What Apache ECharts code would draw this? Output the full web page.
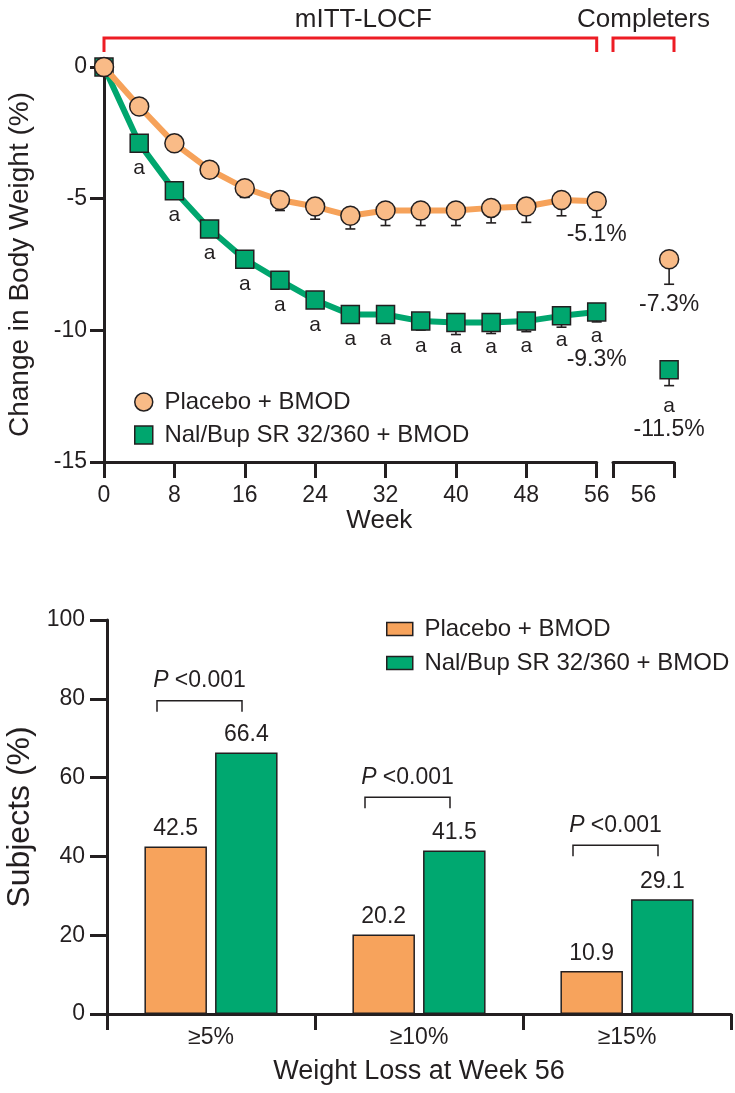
<!DOCTYPE html>
<html>
<head>
<meta charset="utf-8">
<script src="https://cdn.jsdelivr.net/npm/echarts@6.0.0/dist/echarts.min.js"></script>
<style>html,body{margin:0;padding:0;background:#fff}#c{width:735px;height:1093px}</style>
</head>
<body>
<div id="c"></div>
<script>
// ---------- DATA ----------
const weeks = [0, 4, 8, 12, 16, 20, 24, 28, 32, 36, 40, 44, 48, 52, 56];
const placeboMean = [0, -1.5, -2.9, -3.9, -4.6, -5.05, -5.3, -5.65, -5.45, -5.45, -5.45, -5.35, -5.3, -5.05, -5.1];
const placeboSE   = [0, 0.2, 0.25, 0.3, 0.35, 0.4, 0.48, 0.5, 0.57, 0.57, 0.57, 0.57, 0.6, 0.6, 0.6];
const nalMean = [0, -2.9, -4.7, -6.15, -7.3, -8.1, -8.85, -9.4, -9.4, -9.65, -9.7, -9.7, -9.65, -9.45, -9.3];
const nalSE   = [0, 0.15, 0.2, 0.22, 0.25, 0.27, 0.3, 0.32, 0.32, 0.34, 0.46, 0.42, 0.4, 0.43, 0.38];
const nalSig  = ['', 'a', 'a', 'a', 'a', 'a', 'a', 'a', 'a', 'a', 'a', 'a', 'a', 'a', 'a'];
const completerPlacebo = [-7.3];
const completerPlaceboSE = [0.95];
const completerNal = [-11.5];
const completerNalSE = [0.6];
const completerNalSig = ['a'];
const completerWeekLabel = ['56'];
const topTitleLabels = ['mITT-LOCF', 'Completers'];

const barCategories = ['≥5%', '≥10%', '≥15%'];
const barPlacebo = [42.5, 20.2, 10.9];
const barNal = [66.4, 41.5, 29.1];
const pValueText = ['<0.001', '<0.001', '<0.001'];
const pBracketLevel = [79.5, 55, 42.8];

const nameA = 'Placebo + BMOD';
const nameB = 'Nal/Bup SR 32/360 + BMOD';

// ---------- STYLE / LAYOUT ----------
const FONT = '"Liberation Sans", Arial, Helvetica, sans-serif';
const INK = '#231f20';
const RED = '#ed1c24';
const peach = '#f9bb87', orangeLine = '#f6a25a', green = '#00a66e';
const barOrange = '#f7a35c', barGreen = '#00a870';

const G0 = {left: 104, top: 67, width: 492.7, height: 395};
const G1 = {left: 613, top: 67, width: 61, height: 395};
const G2 = {left: 107, top: 620, width: 624, height: 394};
const COMPLETER_POS = 0.92;

const chart = echarts.init(document.getElementById('c'), null, {renderer: 'canvas'});

function errorSeries(xIdx, yIdx, xs, means, ses, z) {
  return {
    type: 'custom', xAxisIndex: xIdx, yAxisIndex: yIdx, z: z, silent: true,
    data: xs.map((x, i) => [x, means[i], means[i] - ses[i]]),
    encode: {x: 0, y: [1, 2]},
    renderItem: function (params, api) {
      const top = api.coord([api.value(0), api.value(1)]);
      const bot = api.coord([api.value(0), api.value(2)]);
      const hw = 5;
      return {type: 'group', children: [
        {type: 'line', shape: {x1: top[0], y1: top[1], x2: bot[0], y2: bot[1]}, style: {stroke: INK, lineWidth: 1.6}},
        {type: 'line', shape: {x1: bot[0] - hw, y1: bot[1], x2: bot[0] + hw, y2: bot[1]}, style: {stroke: INK, lineWidth: 1.6}}
      ]};
    }
  };
}

const axisLineStyle = {show: true, onZero: false, lineStyle: {color: INK, width: 3}};
const tickStyle = (len) => ({show: true, inside: false, length: len, lineStyle: {color: INK, width: 3}});
const labelStyle = (margin) => ({show: true, color: INK, fontSize: 23, fontFamily: FONT, margin: margin});

const markerBorder = {borderColor: INK, borderWidth: 1.5, opacity: 1};

const option = {
  animation: false,
  backgroundColor: '#fff',
  textStyle: {fontFamily: FONT, color: INK},
  grid: [
    Object.assign({outerBoundsMode: 'none'}, G0),
    Object.assign({outerBoundsMode: 'none'}, G1),
    Object.assign({outerBoundsMode: 'none'}, G2)
  ],
  xAxis: [
    {gridIndex: 0, type: 'value', min: 0, max: 56, interval: 8,
     axisLine: axisLineStyle, axisTick: tickStyle(16), axisLabel: labelStyle(22), splitLine: {show: false},
     name: 'Week', nameLocation: 'middle', nameGap: 45,
     nameTextStyle: {fontSize: 26, color: INK, fontFamily: FONT, padding: [0, 0, 0, 58]}},
    {gridIndex: 1, type: 'category', data: completerWeekLabel, boundaryGap: true,
     axisLine: axisLineStyle, axisTick: tickStyle(16), axisLabel: labelStyle(22), splitLine: {show: false}},
    {gridIndex: 1, type: 'value', min: 0, max: 1, show: false},
    {gridIndex: 2, type: 'category', data: barCategories, boundaryGap: true,
     axisLine: axisLineStyle, axisTick: tickStyle(16), axisLabel: labelStyle(12), splitLine: {show: false},
     name: 'Weight Loss at Week 56', nameLocation: 'middle', nameGap: 44,
     nameTextStyle: {fontSize: 27, color: INK, fontFamily: FONT}}
  ],
  yAxis: [
    {gridIndex: 0, type: 'value', min: -15, max: 0, interval: 5,
     axisLine: axisLineStyle, axisTick: tickStyle(14), axisLabel: labelStyle(17), splitLine: {show: false},
     name: 'Change in Body Weight (%)', nameLocation: 'middle', nameGap: 70,
     nameTextStyle: {fontSize: 28, color: INK, fontFamily: FONT}},
    {gridIndex: 1, type: 'value', min: -15, max: 0, show: false},
    {gridIndex: 2, type: 'value', min: 0, max: 100, interval: 20,
     axisLine: axisLineStyle, axisTick: tickStyle(17), axisLabel: labelStyle(22), splitLine: {show: false},
     name: 'Subjects (%)', nameLocation: 'middle', nameGap: 70,
     nameTextStyle: {fontSize: 32, color: INK, fontFamily: FONT}}
  ],
  legend: [
    {orient: 'vertical', left: 134, top: 390, padding: 0, itemWidth: 18, itemHeight: 18, itemGap: 9,
     selectedMode: false, textStyle: {fontSize: 24, color: INK, fontFamily: FONT},
     formatter: n => ' ' + n,
     data: [
       {name: nameA, icon: 'circle', itemStyle: Object.assign({color: peach}, markerBorder)},
       {name: nameB, icon: 'rect', itemStyle: Object.assign({color: green}, markerBorder)}
     ]},
    {orient: 'vertical', left: 386, top: 617, padding: 0, itemWidth: 26, itemHeight: 13, itemGap: 10,
     selectedMode: false, textStyle: {fontSize: 24, color: INK, fontFamily: FONT},
     formatter: n => ' ' + n,
     data: [
       {name: nameA, icon: 'rect', itemStyle: Object.assign({color: barOrange}, markerBorder)},
       {name: nameB, icon: 'rect', itemStyle: Object.assign({color: barGreen}, markerBorder)}
     ]}
  ],
  series: [
    errorSeries(0, 0, weeks, placeboMean, placeboSE, 2),
    errorSeries(0, 0, weeks, nalMean, nalSE, 2),
    errorSeries(2, 1, [COMPLETER_POS], completerPlacebo, completerPlaceboSE, 2),
    errorSeries(2, 1, [COMPLETER_POS], completerNal, completerNalSE, 2),
    {name: nameB, type: 'line', xAxisIndex: 0, yAxisIndex: 0, z: 3,
     data: weeks.map((w, i) => [w, nalMean[i]]),
     symbol: 'rect', symbolSize: 18, showSymbol: true,
     lineStyle: {color: green, width: 6},
     itemStyle: Object.assign({color: green}, markerBorder),
     label: {show: true, position: 'bottom', distance: 4, color: INK, fontFamily: FONT,
       formatter: p => {
         const i = p.dataIndex;
         if (!nalSig[i]) return '';
         if (i === weeks.length - 1) return '{a|' + nalSig[i] + '}\n{v|' + nalMean[i].toFixed(1) + '%}';
         return '{a|' + nalSig[i] + '}';
       },
       rich: {a: {fontSize: 21, lineHeight: 22, color: INK, fontFamily: FONT},
              v: {fontSize: 23, lineHeight: 24, color: INK, fontFamily: FONT}}},
     emphasis: {disabled: true}},
    {name: nameA, type: 'line', xAxisIndex: 0, yAxisIndex: 0, z: 4,
     data: weeks.map((w, i) => [w, placeboMean[i]]),
     symbol: 'circle', symbolSize: 19, showSymbol: true,
     lineStyle: {color: orangeLine, width: 6},
     itemStyle: Object.assign({color: peach}, markerBorder),
     label: {show: true, position: 'bottom', distance: 12, color: INK, fontFamily: FONT, fontSize: 23,
       formatter: p => p.dataIndex === weeks.length - 1 ? placeboMean[p.dataIndex].toFixed(1) + '%' : ''},
     emphasis: {disabled: true}},
    {name: 'Completers placebo', type: 'scatter', xAxisIndex: 2, yAxisIndex: 1, z: 4,
     data: completerPlacebo.map(v => [COMPLETER_POS, v]),
     symbol: 'circle', symbolSize: 19,
     itemStyle: Object.assign({color: peach}, markerBorder),
     label: {show: true, position: 'bottom', distance: 24, color: INK, fontFamily: FONT, fontSize: 23,
       formatter: p => completerPlacebo[p.dataIndex].toFixed(1) + '%'},
     emphasis: {disabled: true}},
    {name: 'Completers nal', type: 'scatter', xAxisIndex: 2, yAxisIndex: 1, z: 4,
     data: completerNal.map(v => [COMPLETER_POS, v]),
     symbol: 'rect', symbolSize: 18,
     itemStyle: Object.assign({color: green}, markerBorder),
     label: {show: true, position: 'bottom', distance: 16, color: INK, fontFamily: FONT,
       formatter: p => '{a|' + completerNalSig[p.dataIndex] + '}\n{v|' + completerNal[p.dataIndex].toFixed(1) + '%}',
       rich: {a: {fontSize: 21, lineHeight: 22, color: INK, fontFamily: FONT},
              v: {fontSize: 23, lineHeight: 25, color: INK, fontFamily: FONT}}},
     emphasis: {disabled: true}},
    {name: nameA, type: 'bar', xAxisIndex: 3, yAxisIndex: 2, data: barPlacebo,
     barCategoryGap: '36%', barGap: '13%',
     itemStyle: Object.assign({color: barOrange}, markerBorder),
     label: {show: true, position: 'top', distance: 6, color: INK, fontSize: 23, fontFamily: FONT},
     emphasis: {disabled: true}},
    {name: nameB, type: 'bar', xAxisIndex: 3, yAxisIndex: 2, data: barNal,
     barCategoryGap: '36%', barGap: '13%',
     itemStyle: Object.assign({color: barGreen}, markerBorder),
     label: {show: true, position: 'top', distance: 6, color: INK, fontSize: 23, fontFamily: FONT},
     emphasis: {disabled: true}},
    {type: 'custom', xAxisIndex: 3, yAxisIndex: 2, z: 5, silent: true,
     data: barCategories.map((c, i) => [i, pBracketLevel[i]]),
     renderItem: function (params, api) {
       const i = params.dataIndex;
       const p = api.coord([api.value(0), api.value(1)]);
       const L = p[0] - 54, R = p[0] + 31, y = p[1], leg = 11;
       return {type: 'group', children: [
         {type: 'polyline', shape: {points: [[L, y + leg], [L, y], [R, y], [R, y + leg]]},
          style: {stroke: INK, lineWidth: 1.5, fill: null}},
         {type: 'text', x: (L + R) / 2, y: y - 20,
          style: {text: '{i|P} ' + pValueText[i], align: 'center', verticalAlign: 'middle',
                  fontSize: 23, fontFamily: FONT, fill: INK,
                  rich: {i: {fontStyle: 'italic', fontSize: 23, fontFamily: FONT, fill: INK}}}}
       ]};
     }}
  ],
  graphic: [
    {type: 'polyline', silent: true,
     shape: {points: [[G0.left, 52], [G0.left, 38], [G0.left + G0.width, 38], [G0.left + G0.width, 52]]},
     style: {stroke: RED, lineWidth: 3, fill: null}},
    {type: 'polyline', silent: true,
     shape: {points: [[G1.left, 52], [G1.left, 38], [G1.left + G1.width, 38], [G1.left + G1.width, 52]]},
     style: {stroke: RED, lineWidth: 3, fill: null}},
    {type: 'text', x: G0.left + G0.width / 2 + 13, y: 20, silent: true,
     style: {text: topTitleLabels[0], align: 'center', verticalAlign: 'middle', fontSize: 26, fontFamily: FONT, fill: INK}},
    {type: 'text', x: G1.left + G1.width / 2, y: 20, silent: true,
     style: {text: topTitleLabels[1], align: 'center', verticalAlign: 'middle', fontSize: 26, fontFamily: FONT, fill: INK}}
  ]
};
chart.setOption(option);
</script>
</body>
</html>
